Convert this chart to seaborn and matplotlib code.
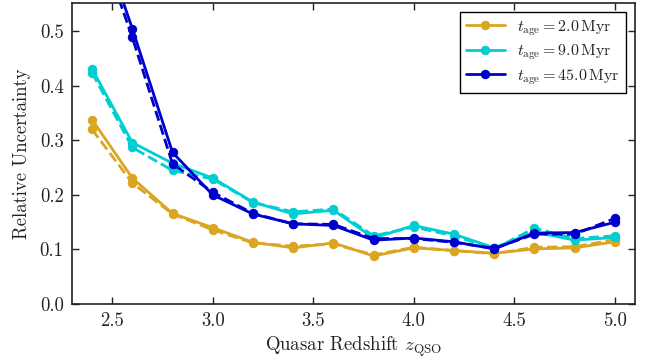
import matplotlib
matplotlib.use("Agg")
import matplotlib.pyplot as plt
import seaborn as sns
import pandas as pd
import numpy as np

z = [2.4, 2.6, 2.8, 3.0, 3.2, 3.4, 3.6, 3.8, 4.0, 4.2, 4.4, 4.6, 4.8, 5.0]

gold_solid = [0.338, 0.231, 0.166, 0.140, 0.113, 0.103, 0.112, 0.088, 0.103, 0.098, 0.093, 0.101, 0.103, 0.114]
gold_dash = [0.320, 0.222, 0.165, 0.136, 0.112, 0.106, 0.110, 0.090, 0.104, 0.098, 0.092, 0.104, 0.105, 0.118]
cyan_solid = [0.431, 0.296, 0.258, 0.231, 0.187, 0.165, 0.172, 0.121, 0.144, 0.128, 0.103, 0.132, 0.117, 0.122]
cyan_dash = [0.424, 0.287, 0.245, 0.229, 0.186, 0.169, 0.174, 0.125, 0.141, 0.125, 0.101, 0.139, 0.120, 0.125]
blue_solid = [0.72, 0.505, 0.278, 0.200, 0.165, 0.147, 0.144, 0.117, 0.121, 0.114, 0.101, 0.130, 0.131, 0.150]
blue_dash = [0.70, 0.489, 0.257, 0.205, 0.166, 0.147, 0.146, 0.120, 0.120, 0.113, 0.102, 0.128, 0.128, 0.157]

labels = [r"$t_{\rm age} = 2.0\,{\rm Myr}$",
          r"$t_{\rm age} = 9.0\,{\rm Myr}$",
          r"$t_{\rm age} = 45.0\,{\rm Myr}$"]
colors = ["#DAA520", "#00CED1", "#0000CD"]

sns.set_style("ticks")
plt.rcParams["font.family"] = "serif"
plt.rcParams["font.serif"] = ["cmr10", "DejaVu Serif"]
plt.rcParams["mathtext.fontset"] = "cm"
plt.rcParams["axes.formatter.use_mathtext"] = True
plt.rcParams["axes.unicode_minus"] = False

fig = plt.figure(figsize=(6.45, 3.6), dpi=100)
ax = fig.add_axes([0.1116, 0.1556, 0.8729, 0.8361])

series = [(gold_solid, gold_dash), (cyan_solid, cyan_dash), (blue_solid, blue_dash)]
for (s, d), c, lab in zip(series, colors, labels):
    sns.lineplot(x=z, y=d, ax=ax, color=c, linestyle="--", marker="o",
                 markersize=6, markeredgecolor=c, linewidth=2, label=None,
                 legend=False)
    sns.lineplot(x=z, y=s, ax=ax, color=c, linestyle="-", marker="o",
                 markersize=6, markeredgecolor=c, linewidth=2, label=lab)

ax.set_xlim(2.3, 5.1)
ax.set_ylim(0.0, 0.552)
ax.set_xticks([2.5, 3.0, 3.5, 4.0, 4.5, 5.0])
ax.set_yticks([0.0, 0.1, 0.2, 0.3, 0.4, 0.5])
ax.set_xticklabels(["2.5", "3.0", "3.5", "4.0", "4.5", "5.0"])
ax.set_yticklabels(["0.0", "0.1", "0.2", "0.3", "0.4", "0.5"])
ax.tick_params(direction="in", top=True, right=True, length=5, width=1,
               labelsize=13.5, colors="#222222", pad=6)
for sp in ax.spines.values():
    sp.set_linewidth(1.2)
    sp.set_color("#222222")
ax.set_xlabel(r"Quasar Redshift $z_{\rm QSO}$", fontsize=13.5, color="#222222", labelpad=3)
ax.set_ylabel("Relative Uncertainty", fontsize=13.5, color="#222222", labelpad=6)

h, l = ax.get_legend_handles_labels()
leg = ax.legend(h, l, loc="upper right", fontsize=11.5, frameon=True, fancybox=False,
                edgecolor="black", framealpha=1, borderaxespad=0.55,
                handlelength=2.4, labelspacing=0.3, borderpad=0.4)
leg.get_frame().set_linewidth(1.0)

fig.savefig("out.png", dpi=100)
